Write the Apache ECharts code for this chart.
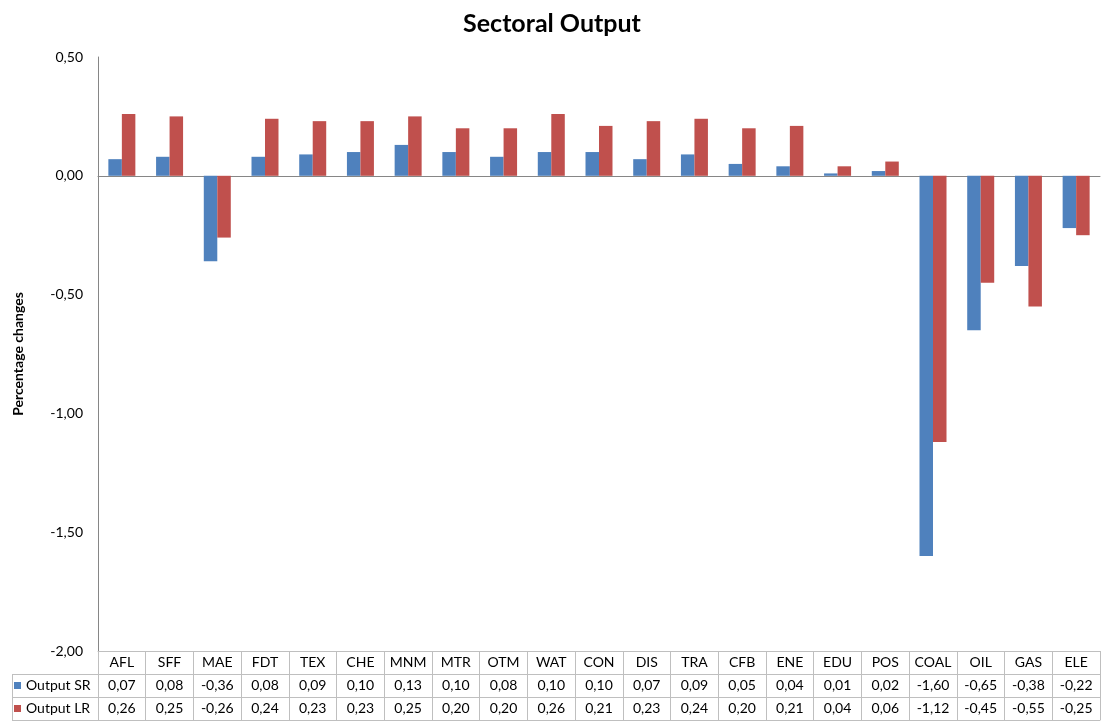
<!DOCTYPE html>
<html>
<head>
<meta charset="utf-8">
<title>Sectoral Output</title>
<script src="https://cdn.jsdelivr.net/npm/echarts@6/dist/echarts.min.js"></script>
<style>
  html, body { margin: 0; padding: 0; background: #ffffff; }
  #chart { width: 1104px; height: 722px; }
</style>
</head>
<body>
<div id="chart"></div>
<script>
// Sectors shown along the category axis and in the data table
const categories = ['AFL', 'SFF', 'MAE', 'FDT', 'TEX', 'CHE', 'MNM', 'MTR', 'OTM', 'WAT', 'CON',
  'DIS', 'TRA', 'CFB', 'ENE', 'EDU', 'POS', 'COAL', 'OIL', 'GAS', 'ELE'];

// Percentage change in output, short run and long run
const outputSR = [0.07, 0.08, -0.36, 0.08, 0.09, 0.10, 0.13, 0.10, 0.08, 0.10, 0.10,
  0.07, 0.09, 0.05, 0.04, 0.01, 0.02, -1.60, -0.65, -0.38, -0.22];
const outputLR = [0.26, 0.25, -0.26, 0.24, 0.23, 0.23, 0.25, 0.20, 0.20, 0.26, 0.21,
  0.23, 0.24, 0.20, 0.21, 0.04, 0.06, -1.12, -0.45, -0.55, -0.25];

// Value axis range and step
const yMin = -2.0;
const yMax = 0.5;
const yStep = 0.5;

const FONT = 'Lato, "Open Sans", "DejaVu Sans", sans-serif';
const AXIS_GRAY = '#868686';
const TABLE_GRAY = '#BFBFBF';
const BLUE = '#4F81BD';
const RED = '#C0504D';
const LABEL_SIZE = 14;

// Decimal comma, two places
const fmt = v => v.toFixed(2).replace('.', ',');

const ROW = 23;           // data table row height
const GRID_LEFT = 98;
const GRID_RIGHT = 4;
const GRID_TOP = 57;
const GRID_BOTTOM = 71;
const TABLE_TOP = 722 - GRID_BOTTOM;
const KEY_LEFT = 12;

const chart = echarts.init(document.getElementById('chart'), null, { renderer: 'canvas' });

// One x axis per table row; the first hidden one carries the bars and the zero line
function tableAxis(rowIndex, formatter, showTicks) {
  return {
    type: 'category',
    data: categories,
    position: 'bottom',
    offset: rowIndex * ROW,
    boundaryGap: true,
    axisLine: { show: true, onZero: false, lineStyle: { color: TABLE_GRAY, width: 1 } },
    axisTick: {
      show: showTicks, interval: 0, inside: false, length: ROW * 3,
      lineStyle: { color: TABLE_GRAY, width: 1 }
    },
    axisLabel: {
      show: formatter !== null,
      interval: 0,
      margin: 4,
      color: '#000000',
      fontFamily: FONT,
      fontSize: LABEL_SIZE,
      formatter: formatter || (() => '')
    },
    splitLine: { show: false }
  };
}

// Series key in the left column of the table, one legend per row
function rowKey(name, rowIndex) {
  return {
    orient: 'vertical',
    left: KEY_LEFT + 2,
    top: TABLE_TOP + rowIndex * ROW + 4,
    padding: 0,
    icon: 'rect',
    itemWidth: 7,
    itemHeight: 7,
    itemGap: 0,
    textStyle: { fontFamily: FONT, fontSize: LABEL_SIZE, color: '#000000', lineHeight: 15 },
    data: [name]
  };
}

const option = {
  backgroundColor: '#ffffff',
  animation: false,
  textStyle: { fontFamily: FONT },
  title: {
    text: 'Sectoral Output',
    left: 'center',
    top: 6,
    textStyle: { fontFamily: FONT, fontSize: 25, fontWeight: 'bold', color: '#000000' }
  },
  legend: [rowKey('Output SR', 1), rowKey('Output LR', 2)],
  grid: {
    left: GRID_LEFT, right: GRID_RIGHT, top: GRID_TOP, bottom: GRID_BOTTOM,
    containLabel: false
  },
  xAxis: [
    {
      type: 'category',
      data: categories,
      position: 'bottom',
      axisLine: { show: true, onZero: true, lineStyle: { color: AXIS_GRAY, width: 1 } },
      axisTick: { show: false },
      axisLabel: { show: false },
      splitLine: { show: false }
    },
    tableAxis(0, (v) => v, true),
    tableAxis(1, (v, i) => fmt(outputSR[i]), false),
    tableAxis(2, (v, i) => fmt(outputLR[i]), false),
    tableAxis(3, null, false)
  ],
  yAxis: {
    type: 'value',
    min: yMin,
    max: yMax,
    interval: yStep,
    name: 'Percentage changes',
    nameLocation: 'middle',
    nameRotate: 90,
    nameGap: 73,
    nameTextStyle: { fontFamily: FONT, fontSize: 14, fontWeight: 'bold', color: '#000000' },
    axisLine: { show: true, onZero: false, lineStyle: { color: AXIS_GRAY, width: 1 } },
    axisTick: { show: false },
    axisLabel: {
      margin: 15,
      color: '#000000',
      fontFamily: FONT,
      fontSize: LABEL_SIZE,
      formatter: v => fmt(v)
    },
    splitLine: { show: false }
  },
  series: [
    {
      name: 'Output SR',
      type: 'bar',
      xAxisIndex: 0,
      data: outputSR,
      barWidth: 13.5,
      barGap: '0%',
      itemStyle: { color: BLUE }
    },
    {
      name: 'Output LR',
      type: 'bar',
      xAxisIndex: 0,
      data: outputLR,
      barWidth: 13.5,
      barGap: '0%',
      itemStyle: { color: RED }
    }
  ],
  // Borders of the series-name column on the left of the data table
  graphic: [
    { type: 'line', shape: { x1: KEY_LEFT, y1: TABLE_TOP + ROW + 0.5, x2: GRID_LEFT, y2: TABLE_TOP + ROW + 0.5 },
      style: { stroke: TABLE_GRAY, lineWidth: 1 }, silent: true },
    { type: 'line', shape: { x1: KEY_LEFT, y1: TABLE_TOP + 2 * ROW + 0.5, x2: GRID_LEFT, y2: TABLE_TOP + 2 * ROW + 0.5 },
      style: { stroke: TABLE_GRAY, lineWidth: 1 }, silent: true },
    { type: 'line', shape: { x1: KEY_LEFT, y1: TABLE_TOP + 3 * ROW + 0.5, x2: GRID_LEFT, y2: TABLE_TOP + 3 * ROW + 0.5 },
      style: { stroke: TABLE_GRAY, lineWidth: 1 }, silent: true },
    { type: 'line', shape: { x1: KEY_LEFT + 0.5, y1: TABLE_TOP + ROW, x2: KEY_LEFT + 0.5, y2: TABLE_TOP + 3 * ROW + 1 },
      style: { stroke: TABLE_GRAY, lineWidth: 1 }, silent: true }
  ]
};

chart.setOption(option);
</script>
</body>
</html>
